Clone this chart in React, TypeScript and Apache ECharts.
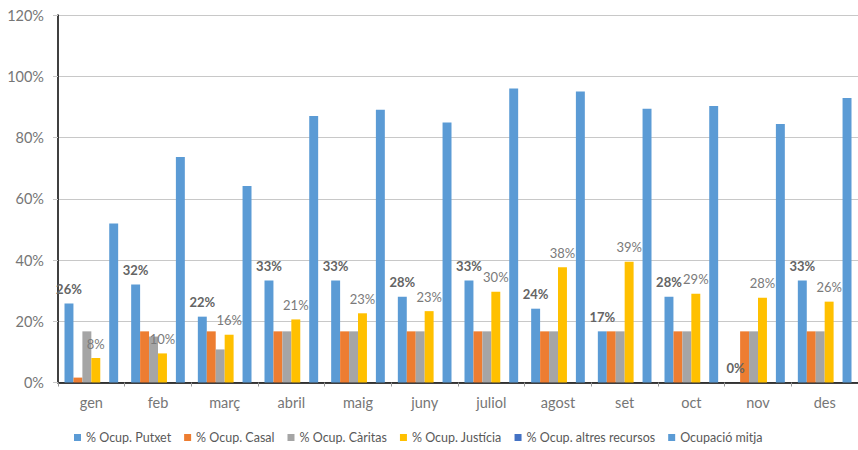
import React, { useEffect, useRef } from "react";
import * as echarts from "echarts";

const months = ["gen", "feb", "març", "abril", "maig", "juny", "juliol", "agost", "set", "oct", "nov", "des"];
const putxet = [25.8, 32.0, 21.5, 33.3, 33.3, 28.0, 33.3, 24.1, 16.7, 28.0, 0, 33.3];
const casal = [1.6, 16.7, 16.7, 16.7, 16.7, 16.7, 16.7, 16.7, 16.7, 16.7, 16.7, 16.7];
const caritas = [16.7, 15.0, 10.8, 16.7, 16.7, 16.7, 16.7, 16.7, 16.7, 16.7, 16.7, 16.7];
const justicia = [8.0, 9.5, 15.6, 20.6, 22.6, 23.3, 29.6, 37.6, 39.4, 29.0, 27.7, 26.4];
const altres = [0, 0, 0, 0, 0, 0, 0, 0, 0, 0, 0, 0];
const mitja = [51.9, 73.6, 64.2, 87.0, 89.1, 84.9, 96.0, 95.0, 89.4, 90.3, 84.4, 92.9];
const yTicks = { min: 0, max: 120, interval: 20 };

const FONT = "Lato, 'Noto Sans', sans-serif";
const pct = (p: any) => Math.round(p.value) + "%";

export default function App() {
  const ref = useRef<HTMLDivElement>(null);
  useEffect(() => {
    if (!ref.current) return;
    const chart = echarts.init(ref.current, undefined, { renderer: "svg" });
    const bar = (name: string, data: number[], color: string, label?: any) => ({
      name,
      type: "bar",
      data,
      barGap: "0%",
      barCategoryGap: "19.5%",
      itemStyle: { color },
      label: label || { show: false },
    });
    chart.setOption({
      animation: false,
      textStyle: { fontFamily: FONT },
      grid: { left: 58, right: -5, top: 15, bottom: 67.5, containLabel: false },
      legend: {
        bottom: 1,
        left: 69,
        itemWidth: 7,
        itemHeight: 7,
        itemGap: 13,
        icon: "rect",
        textStyle: { color: "#595959", fontSize: 12.5, fontFamily: FONT },
        data: ["% Ocup. Putxet", "% Ocup. Casal", "% Ocup. Càritas", "% Ocup. Justícia", "% Ocup. altres recursos", "Ocupació mitja"],
      },
      xAxis: {
        type: "category",
        data: months,
        axisLine: { lineStyle: { color: "#000", width: 1.5 } },
        axisTick: { show: true, length: 4, lineStyle: { color: "#999" } },
        axisLabel: { color: "#767676", fontSize: 14.5, margin: 12, fontFamily: FONT },
      },
      yAxis: {
        type: "value",
        min: yTicks.min,
        max: yTicks.max,
        interval: yTicks.interval,
        axisLine: { show: true, lineStyle: { color: "#000", width: 1.5 } },
        axisTick: { show: true, length: 5, lineStyle: { color: "#c8c8c8" } },
        axisLabel: { color: "#767676", fontSize: 14.5, margin: 14, formatter: "{value}%", fontFamily: FONT },
        splitLine: { lineStyle: { color: "#c8c8c8", width: 1 } },
      },
      series: [
        bar("% Ocup. Putxet", putxet, "#5b9bd5", {
          show: true,
          position: "top",
          distance: 8,
          formatter: pct,
          color: "#646464",
          fontWeight: "bold",
          fontSize: 13,
          fontFamily: FONT,
        }),
        bar("% Ocup. Casal", casal, "#ed7d31"),
        bar("% Ocup. Càritas", caritas, "#a5a5a5"),
        bar("% Ocup. Justícia", justicia, "#ffc000", {
          show: true,
          position: "top",
          distance: 8,
          formatter: pct,
          color: "#7a7a7a",
          fontSize: 13,
          fontFamily: FONT,
        }),
        bar("% Ocup. altres recursos", altres, "#4472c4"),
        bar("Ocupació mitja", mitja, "#5b9bd5"),
      ],
    });
    return () => chart.dispose();
  }, []);
  return (
    <div
      ref={ref}
      style={{ position: "fixed", left: 0, top: 0, width: 858, height: 450, background: "#fff" }}
    />
  );
}
